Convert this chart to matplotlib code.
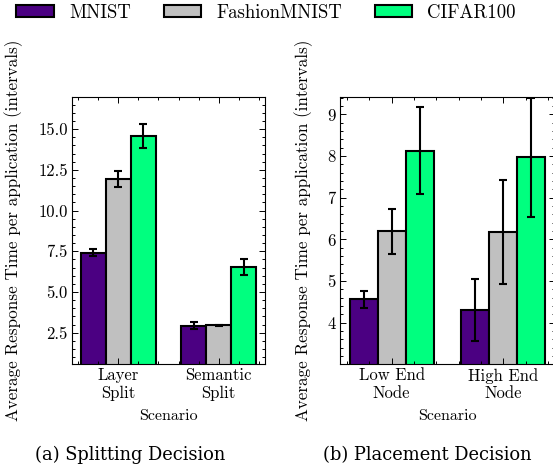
import numpy as np
import matplotlib
matplotlib.use("Agg")
import matplotlib.pyplot as plt
from matplotlib.ticker import AutoMinorLocator, MultipleLocator, FormatStrFormatter
from matplotlib.patches import Patch

plt.rcParams['font.family'] = 'serif'
plt.rcParams['font.serif'] = ['cmr10', 'DejaVu Serif']
plt.rcParams['mathtext.fontset'] = 'cm'
plt.rcParams['axes.formatter.use_mathtext'] = True
plt.rcParams['axes.unicode_minus'] = False

datasets = ['MNIST', 'FashionMNIST', 'CIFAR100']
colors = ['#4B0082', '#C0C0C0', '#00FF7F']

split_labels = ['Layer\nSplit', 'Semantic\nSplit']
split_mean = {'MNIST': [7.42, 2.93], 'FashionMNIST': [11.93, 2.97], 'CIFAR100': [14.59, 6.54]}
split_err = {'MNIST': [0.23, 0.20], 'FashionMNIST': [0.50, 0.03], 'CIFAR100': [0.73, 0.49]}

place_labels = ['Low End\nNode', 'High End\nNode']
place_mean = {'MNIST': [4.56, 4.31], 'FashionMNIST': [6.20, 6.18], 'CIFAR100': [8.13, 7.97]}
place_err = {'MNIST': [0.20, 0.74], 'FashionMNIST': [0.54, 1.24], 'CIFAR100': [1.04, 1.42]}


def draw(ax, labels, means, errs, ylim, ystep, fmt):
    x = np.arange(len(labels))
    w = 0.25
    for i, d in enumerate(datasets):
        ax.bar(x + (i - 1) * w, means[d], w, yerr=errs[d], color=colors[i],
               edgecolor='black', linewidth=1.5, capsize=3,
               error_kw=dict(elinewidth=1.5, capthick=1.5, ecolor='black'))
    ax.set_xticks(x)
    ax.set_xticklabels(labels, linespacing=1.15)
    ax.set_ylim(*ylim)
    ax.yaxis.set_major_locator(MultipleLocator(ystep))
    ax.yaxis.set_major_formatter(FormatStrFormatter(fmt))
    ax.xaxis.set_minor_locator(AutoMinorLocator(5))
    ax.yaxis.set_minor_locator(AutoMinorLocator(5))
    ax.tick_params(which='both', direction='in', top=True, right=True, labelsize=12)
    ax.tick_params(which='major', length=4, width=0.7, pad=3)
    ax.tick_params(which='minor', length=2, width=0.7)
    ax.set_xlabel('Scenario', fontsize=11.5, labelpad=6)
    ax.set_ylabel('Average Response Time per application (intervals)', fontsize=12.3)
    for s in ax.spines.values():
        s.set_linewidth(0.8)


fig = plt.figure(figsize=(5.53, 4.70), dpi=100)
ax1 = fig.add_axes([72 / 553, 106 / 470, 193 / 553, 267 / 470])
ax2 = fig.add_axes([340 / 553, 106 / 470, 215 / 553, 267 / 470])

draw(ax1, split_labels, split_mean, split_err, (0.58, 16.97), 2.5, '%.1f')
draw(ax2, place_labels, place_mean, place_err, (3.01, 9.42), 1, '%d')
ax1.yaxis.set_label_coords(-0.254, 0.5)
ax2.yaxis.set_label_coords(-0.126, 0.5)

handles = [Patch(facecolor=c, edgecolor='black', linewidth=1.5) for c in colors]
fig.legend(handles, datasets, loc='center', bbox_to_anchor=(266 / 553, 1 - 13 / 470), ncol=3,
           frameon=False, fontsize=13.5, handlelength=2.0, handleheight=0.62,
           handletextpad=0.8, columnspacing=1.75, borderpad=0, borderaxespad=0)

fig.text(130 / 553, 15 / 470, '(a) Splitting Decision', ha='center', va='center',
         fontsize=12.9, family='DejaVu Serif')
fig.text(427 / 553, 15 / 470, '(b) Placement Decision', ha='center', va='center',
         fontsize=12.9, family='DejaVu Serif')

fig.savefig('out.png', dpi=100)
